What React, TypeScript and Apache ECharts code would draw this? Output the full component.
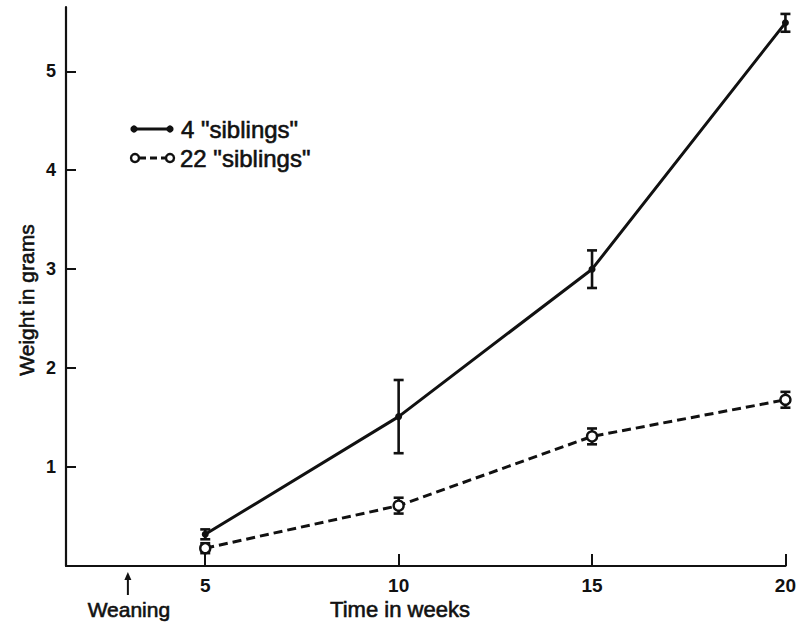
import React, { useEffect, useRef } from "react";
import * as echarts from "echarts";

const weeks = [5, 10, 15, 20];
const siblings4 = [0.32, 1.51, 3.0, 5.49];
const siblings4Err = [0.05, 0.37, 0.19, 0.09];
const siblings22 = [0.18, 0.61, 1.31, 1.68];
const siblings22Err = [0.05, 0.08, 0.08, 0.08];
const xTicks = [5, 10, 15, 20];
const yTicks = [1, 2, 3, 4, 5];
const weaningWeek = [3];
const seriesNames = ['4 "siblings"', '22 "siblings"'];
const xTitle = "Time in weeks";
const yTitle = "Weight in grams";
const weaningLabel = "Weaning";

export default function App() {
  const ref = useRef<HTMLDivElement>(null);
  useEffect(() => {
    document.body.style.margin = "0";
    const chart = echarts.init(ref.current!, null, { renderer: "svg" });
    const font = "Liberation Sans";
    const ink = "#111";
    const textStyle = (text: string, size: number, align: string) => ({
      text,
      fontFamily: font,
      fontSize: size,
      fill: ink,
      stroke: ink,
      lineWidth: 0.6,
      align,
      verticalAlign: "middle",
    });
    const errData = (vals: number[], errs: number[]) =>
      weeks.map((w, i) => [w, vals[i] - errs[i], vals[i] + errs[i]]);
    const errSeries = (name: string, vals: number[], errs: number[]) => ({
      type: "custom",
      name: name + " err",
      data: errData(vals, errs),
      z: 2,
      silent: true,
      renderItem: (params: any, api: any) => {
        const x = api.value(0);
        const lo = api.coord([x, api.value(1)]);
        const hi = api.coord([x, api.value(2)]);
        const cap = 5;
        const style = { stroke: ink, lineWidth: 2.6 };
        return {
          type: "group",
          children: [
            { type: "line", shape: { x1: lo[0], y1: lo[1], x2: hi[0], y2: hi[1] }, style },
            { type: "line", shape: { x1: lo[0] - cap, y1: lo[1], x2: lo[0] + cap, y2: lo[1] }, style },
            { type: "line", shape: { x1: hi[0] - cap, y1: hi[1], x2: hi[0] + cap, y2: hi[1] }, style },
          ],
        };
      },
    });

    const option: any = {
      animation: false,
      backgroundColor: "#fff",
      grid: { left: 66, right: 12, top: 7, bottom: 60, containLabel: false },
      xAxis: {
        type: "value",
        min: 1.4,
        max: 20,
        splitLine: { show: false },
        axisLine: { show: true, lineStyle: { color: ink, width: 2.2 } },
        axisTick: { show: true, inside: true, length: 12, customValues: xTicks, lineStyle: { color: ink, width: 2 } },
        axisLabel: { customValues: xTicks, margin: 10, fontFamily: font, fontSize: 19, fontWeight: "bold", color: ink },
      },
      yAxis: {
        type: "value",
        min: 0,
        max: 5.65,
        splitLine: { show: false },
        axisLine: { show: true, onZero: false, lineStyle: { color: ink, width: 2.2 } },
        axisTick: { show: true, inside: true, length: 10, customValues: yTicks, lineStyle: { color: ink, width: 2 } },
        axisLabel: { customValues: yTicks, margin: 10, fontFamily: font, fontSize: 18, fontWeight: "bold", color: ink },
      },
      series: [
        errSeries(seriesNames[0], siblings4, siblings4Err),
        errSeries(seriesNames[1], siblings22, siblings22Err),
        {
          type: "line",
          name: seriesNames[0],
          data: weeks.map((w, i) => [w, siblings4[i]]),
          symbol: "circle",
          symbolSize: 7,
          z: 3,
          lineStyle: { color: ink, width: 3 },
          itemStyle: { color: ink },
        },
        {
          type: "line",
          name: seriesNames[1],
          data: weeks.map((w, i) => [w, siblings22[i]]),
          symbol: "circle",
          symbolSize: 10,
          z: 4,
          lineStyle: { color: ink, width: 3, type: [9, 5] },
          itemStyle: { color: "#fff", borderColor: ink, borderWidth: 2.4 },
        },
        {
          type: "custom",
          name: "weaning",
          data: weaningWeek.map((w) => [w, 0]),
          silent: true,
          clip: false,
          renderItem: (params: any, api: any) => {
            const p = api.coord([api.value(0), api.value(1)]);
            const style = { stroke: ink, lineWidth: 2 };
            return {
              type: "group",
              children: [
                { type: "line", shape: { x1: p[0], y1: p[1] + 9, x2: p[0], y2: p[1] + 29 }, style },
                { type: "polygon", shape: { points: [[p[0], p[1] + 6], [p[0] - 3.5, p[1] + 14], [p[0] + 3.5, p[1] + 14]] }, style: { fill: ink } },
                { type: "text", x: p[0] + 1, y: p[1] + 43, style: textStyle(weaningLabel, 21, "center") },
              ],
            };
          },
        },
      ],
      graphic: [
        { type: "text", x: 400, y: 609, style: textStyle(xTitle, 22, "center") },
        { type: "text", x: 26, y: 300, rotation: Math.PI / 2, style: textStyle(yTitle, 21, "center") },
        // legend
        { type: "line", shape: { x1: 134, y1: 129, x2: 170, y2: 129 }, style: { stroke: ink, lineWidth: 3 } },
        { type: "circle", shape: { cx: 134, cy: 129, r: 3.6 }, style: { fill: ink } },
        { type: "circle", shape: { cx: 170, cy: 129, r: 3.6 }, style: { fill: ink } },
        { type: "text", x: 181, y: 129, style: textStyle(seriesNames[0], 24, "left") },
        { type: "line", shape: { x1: 139, y1: 158, x2: 166, y2: 158 }, style: { stroke: ink, lineWidth: 3, lineDash: [7, 4] } },
        { type: "circle", shape: { cx: 135, cy: 158, r: 4 }, style: { fill: "#fff", stroke: ink, lineWidth: 2.4 } },
        { type: "circle", shape: { cx: 170, cy: 158, r: 4 }, style: { fill: "#fff", stroke: ink, lineWidth: 2.4 } },
        { type: "text", x: 180, y: 158, style: textStyle(seriesNames[1], 24, "left") },
      ],
    };
    chart.setOption(option);
    return () => chart.dispose();
  }, []);
  return <div ref={ref} style={{ width: 799, height: 626 }} />;
}
